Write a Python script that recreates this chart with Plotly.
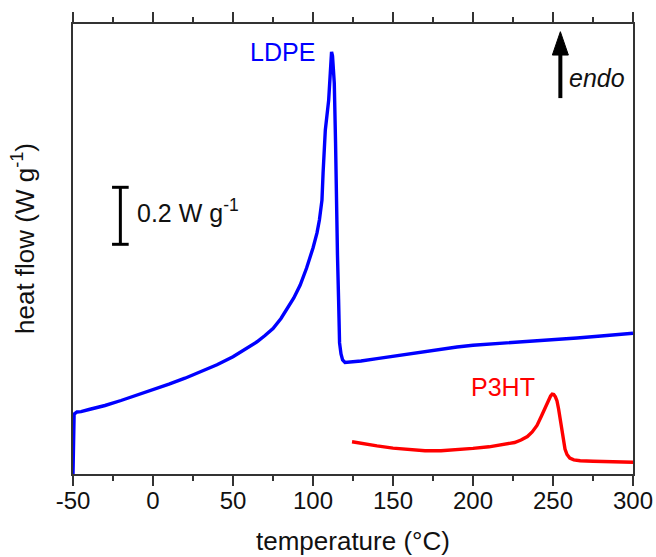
import plotly.graph_objects as go

# LDPE DSC trace (temperature in °C, heat flow in W/g, arbitrary offset)
ldpe_T = [-50, -49.3, -47.5, -45, -40, -30, -20, -10, 0, 10, 20, 30, 40, 50, 58, 65, 70, 75,
          80, 84, 88, 92, 96, 100, 102.5, 104, 105.6, 106.3, 107.7, 109.8, 111, 111.6, 112.2,
          113.3, 114.1, 114.6, 115.3, 116, 116.6, 117.5, 118.5, 120, 125, 130, 140, 150, 160,
          175, 190, 200, 215, 230, 250, 265, 280, 300]
ldpe_hf = [0.0, 0.210, 0.2175, 0.219, 0.2263, 0.2404, 0.2579, 0.2761, 0.2947, 0.3151, 0.3361,
           0.3586, 0.3832, 0.4116, 0.4386, 0.4639, 0.4860, 0.5105, 0.5456, 0.5789, 0.6175,
           0.6632, 0.7228, 0.793, 0.846, 0.891, 0.961, 1.056, 1.207, 1.312, 1.435, 1.481, 1.467,
           1.372, 1.161, 0.926, 0.768, 0.611, 0.460, 0.421, 0.400, 0.3912, 0.3930, 0.3965,
           0.4049, 0.4133, 0.4218, 0.4340, 0.4456, 0.4519, 0.4575, 0.4625, 0.4702, 0.4772,
           0.4842, 0.4937]

# P3HT DSC trace
p3ht_T = [124.4, 130, 140, 150, 160, 170, 180, 190, 200, 210, 220, 226, 230, 234, 237, 240,
          242.5, 245, 247, 248.5, 249.5, 250.5, 251.5, 252.5, 253.5, 254.5, 255.5, 256.5, 257.5,
          258.75, 260.5, 263, 267, 275, 288, 300]
p3ht_hf = [0.1133, 0.1077, 0.0986, 0.0909, 0.0849, 0.0818, 0.0814, 0.0842, 0.0898, 0.0954,
           0.1032, 0.1105, 0.1193, 0.1316, 0.1474, 0.1702, 0.2000, 0.2316, 0.2579, 0.2737,
           0.2800, 0.2789, 0.2709, 0.2561, 0.2281, 0.1912, 0.1509, 0.1140, 0.0877, 0.0684,
           0.0561, 0.0498, 0.0467, 0.0449, 0.0432, 0.0411]

x_tickvals = [-50, 0, 50, 100, 150, 200, 250, 300]
x_ticktext = ["-50", "0", "50", "100", "150", "200", "250", "300"]

FONT = "Liberation Sans, Arial, sans-serif"
AX = "#333333"
TXT = "#111111"

fig = go.Figure()
fig.add_trace(go.Scatter(x=ldpe_T, y=ldpe_hf, mode="lines", name="LDPE",
                         line=dict(color="#0000ff", width=3.4), showlegend=False))
fig.add_trace(go.Scatter(x=p3ht_T, y=p3ht_hf, mode="lines", name="P3HT",
                         line=dict(color="#ff0000", width=3.4), showlegend=False))

# scale bar 0.2 W/g
bar_x, bar_y0, bar_h, cap = -20.4, 0.806, 0.2, 5.2
for sh in [dict(x0=bar_x, x1=bar_x, y0=bar_y0, y1=bar_y0 + bar_h),
           dict(x0=bar_x - cap, x1=bar_x + cap, y0=bar_y0, y1=bar_y0),
           dict(x0=bar_x - cap, x1=bar_x + cap, y0=bar_y0 + bar_h, y1=bar_y0 + bar_h)]:
    fig.add_shape(type="line", xref="x", yref="y", line=dict(color="black", width=3), **sh)

# endo arrow
ax_x = 254.6
fig.add_shape(type="line", xref="x", yref="y", x0=ax_x, x1=ax_x, y0=1.319, y1=1.475,
              line=dict(color="black", width=4))
fig.add_shape(type="path", xref="x", yref="y",
              path=f"M {ax_x - 5} 1.470 L {ax_x} 1.552 L {ax_x + 5} 1.470 Z",
              fillcolor="black", line=dict(color="black", width=1))

fig.add_annotation(x=102.5, y=1.481, xref="x", yref="y", text="LDPE", showarrow=False,
                   xanchor="right", font=dict(family=FONT, size=25, color="#0000ff"))
fig.add_annotation(x=240, y=0.305, xref="x", yref="y", text="P3HT", showarrow=False,
                   xanchor="right", font=dict(family=FONT, size=25, color="#ff0000"))
fig.add_annotation(x=258.5, y=1.389, xref="x", yref="y", text="<i>endo</i>", showarrow=False,
                   xanchor="left", font=dict(family=FONT, size=25, color=TXT))
fig.add_annotation(x=-11, y=0.924, xref="x", yref="y", text="0.2 W g<sup>-1</sup>",
                   showarrow=False, xanchor="left",
                   font=dict(family=FONT, size=25, color=TXT))

# axis titles
fig.add_annotation(x=0.5, y=0, xref="paper", yref="paper", yanchor="middle",
                   yshift=-67, text="temperature (°C)", showarrow=False,
                   font=dict(family=FONT, size=26, color=TXT))
fig.add_annotation(x=0, y=0.5, xref="paper", yref="paper", xanchor="center",
                   xshift=-50, yshift=10, textangle=-90, text="heat flow (W g<sup>-1</sup>)",
                   showarrow=False, font=dict(family=FONT, size=26, color=TXT))

fig.update_layout(
    width=656, height=557,
    margin=dict(l=73, r=23, t=24, b=83),
    paper_bgcolor="white", plot_bgcolor="white",
    font=dict(family=FONT, color=TXT),
    xaxis=dict(range=[-50, 300], tickvals=x_tickvals, ticktext=x_ticktext,
               ticks="outside", ticklen=10, tickwidth=1.5, tickcolor=AX,
               minor=dict(dtick=25, ticks="outside", ticklen=5, tickwidth=1.5, tickcolor=AX),
               showline=True, linecolor=AX, linewidth=1.5, mirror="ticks",
               showgrid=False, zeroline=False, automargin=False, ticklabelstandoff=-6,
               tickfont=dict(size=24, family=FONT, color=TXT)),
    yaxis=dict(range=[0, 1.579], showticklabels=False, ticks="",
               showline=True, linecolor=AX, linewidth=1.5, mirror=True,
               showgrid=False, zeroline=False, automargin=False),
)

# remove the default page margin so the 656x557 figure fills the window exactly
fig.write_html("out.html",
               config={"displayModeBar": False},
               post_script="document.body.style.margin='0';"
                           "document.body.style.overflow='hidden';")
